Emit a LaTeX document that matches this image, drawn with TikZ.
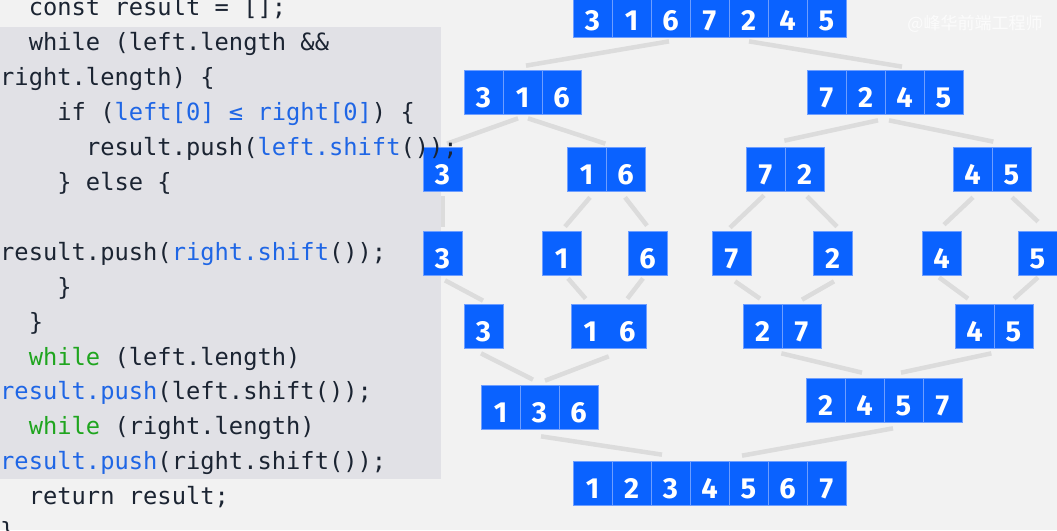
\documentclass[tikz,border=0pt]{standalone}
\usepackage{fontspec}
\usetikzlibrary{backgrounds}
\newfontfamily\codefont{DejaVu Sans Mono}
\newfontfamily\numfont{Fira Sans}
\newfontfamily\cjkfont{Noto Sans CJK SC}
\definecolor{bg}{HTML}{F2F2F2}
\definecolor{panel}{HTML}{E1E1E6}
\definecolor{linkgray}{HTML}{DCDCDC}
\definecolor{cellblue}{HTML}{0A62FF}
\definecolor{celledge}{HTML}{6E9EFF}
\definecolor{codeink}{HTML}{1B2432}
\definecolor{codeblue}{HTML}{1F66E5}
\definecolor{codegreen}{HTML}{1FA51F}

%% one row of cells: name, left x, centre y, digits
\newcommand{\cellrow}[4]{%
  \foreach \d [count=\i] in {#4}
    \node[cell] (#1-\i) at ({#2+\cw*(\i-0.5)},#3) {\d};
}

\begin{document}
\begin{tikzpicture}[x=1pt, y=-1pt,
    cell/.style={rectangle, fill=cellblue, draw=celledge, line width=0.7pt,
      minimum width=39pt, minimum height=44pt, inner sep=0pt, text=white,
      font=\numfont\bfseries\fontsize{29}{30}\selectfont, text height=30pt, text depth=0pt},
    link/.style={draw=linkgray, line width=4.5pt},
    code/.style={anchor=base west, inner sep=0pt, text=codeink,
      font=\codefont\fontsize{23.75}{28}\selectfont}
]
\pgfmathsetmacro{\cw}{39}
\pgfmathsetmacro{\ch}{14.3}
\pgfmathsetmacro{\lh}{34.9}
\useasboundingbox (0,0) rectangle (1057,530);

%% split rows
\cellrow{lv1}{573}{15}{3,1,6,7,2,4,5}
\cellrow{lv2a}{464}{92.7}{3,1,6}
\cellrow{lv2b}{807}{92.7}{7,2,4,5}
\cellrow{lv3a}{423}{169}{3}
\cellrow{lv3b}{567}{169}{1,6}
\cellrow{lv3c}{746}{169}{7,2}
\cellrow{lv3d}{953}{169}{4,5}
\cellrow{lv4a}{423}{253}{3}
\cellrow{lv4b}{542}{253}{1}
\cellrow{lv4c}{628}{253}{6}
\cellrow{lv4d}{712}{253}{7}
\cellrow{lv4e}{813}{253}{2}
\cellrow{lv4f}{922}{253}{4}
\cellrow{lv4g}{1018}{253}{5}

%% merge rows
\cellrow{lv5a}{464}{326}{3}
\node[cell, minimum width=75.5pt] (lv5b) at (608.75,326) {\makebox[37pt]{1}\makebox[37pt]{6}};
\cellrow{lv5c}{743}{326}{2,7}
\cellrow{lv5d}{955}{326}{4,5}
\cellrow{lv6a}{481}{407}{1,3,6}
\cellrow{lv6b}{806}{400}{2,4,5,7}
\cellrow{lv7}{573}{483.5}{1,2,3,4,5,6,7}

\begin{pgfonlayer}{background}
\fill[bg] (0,0) rectangle (1057,530);
%% splitting
\draw[link] ([shift={(-1.5pt,-4pt)}]lv1-3.south) -- ([shift={(3.5pt,4.7pt)}]lv2a-2.north);
\draw[link] ([shift={(0.5pt,-4pt)}]lv1-5.south) -- ([shift={(-2.5pt,3.7pt)}]lv2b-3.north);
\draw[link] ([shift={(-4.5pt,-3.3pt)}]lv2a-2.south) -- ([shift={(4.5pt,3pt)}]lv3a-1.north);
\draw[link] ([shift={(5.5pt,-3.3pt)}]lv2a-2.south) -- ([shift={(-1pt,3pt)}]lv3b-1.north east);
\draw[link] ([shift={(12.5pt,-5.3pt)}]lv2b-2.south) -- ([shift={(-1pt,6pt)}]lv3c-1.north east);
\draw[link] ([shift={(-15.5pt,-5.3pt)}]lv2b-3.south) -- ([shift={(1pt,5pt)}]lv3d-1.north east);
\draw[link] ([yshift=-5pt]lv3a-1.south) -- ([yshift=4pt]lv4a-1.north);
\draw[link] ([shift={(3.5pt,-6pt)}]lv3b-1.south) -- ([shift={(3.5pt,4pt)}]lv4b-1.north);
\draw[link] ([shift={(-0.5pt,-6pt)}]lv3b-2.south) -- ([shift={(-0.5pt,5pt)}]lv4c-1.north);
\draw[link] ([shift={(-1.5pt,-4pt)}]lv3c-1.south) -- ([shift={(-1.5pt,3pt)}]lv4d-1.north);
\draw[link] ([shift={(2.5pt,-5pt)}]lv3c-2.south) -- ([shift={(4.5pt,4pt)}]lv4e-1.north);
\draw[link] ([shift={(0.5pt,-6pt)}]lv3d-1.south) -- ([shift={(2.5pt,6pt)}]lv4f-1.north);
\draw[link] ([shift={(0.5pt,-6pt)}]lv3d-2.south) -- ([shift={(0.5pt,9pt)}]lv4g-1.north);
%% merging
\draw[link] ([shift={(2.5pt,-5pt)}]lv4a-1.south) -- ([shift={(-0.5pt,3pt)}]lv5a-1.north);
\draw[link] ([shift={(6.5pt,-3pt)}]lv4b-1.south) -- ([shift={(15pt,5pt)}]lv5b.north west);
\draw[link] ([shift={(-4.5pt,-3pt)}]lv4c-1.south) -- ([shift={(-19.5pt,5pt)}]lv5b.north east);
\draw[link] ([shift={(3.5pt,-6pt)}]lv4d-1.south) -- ([shift={(-2.5pt,5pt)}]lv5c-1.north);
\draw[link] ([shift={(1.5pt,-6pt)}]lv4e-1.south) -- ([shift={(0.5pt,4pt)}]lv5c-2.north);
\draw[link] ([shift={(-2.5pt,-2pt)}]lv4f-1.south) -- ([shift={(-6.5pt,5pt)}]lv5d-1.north);
\draw[link] ([shift={(0.5pt,-2pt)}]lv4g-1.south) -- ([shift={(0.5pt,5pt)}]lv5d-2.north);
\draw[link] ([shift={(-2.5pt,-5pt)}]lv5a-1.south) -- ([shift={(-6.5pt,5pt)}]lv6a-2.north);
\draw[link] ([yshift=-8pt]lv5b.south) -- ([shift={(5.5pt,4pt)}]lv6a-2.north);
\draw[link] ([shift={(-1pt,-5pt)}]lv5c-1.south east) -- ([shift={(-2.5pt,5pt)}]lv6b-2.north);
\draw[link] ([shift={(-3pt,-5pt)}]lv5d-1.south east) -- ([shift={(-2.5pt,5pt)}]lv6b-3.north);
\draw[link] ([shift={(1.5pt,-7pt)}]lv6a-2.south) -- ([shift={(-8.5pt,6.5pt)}]lv7-3.north);
\draw[link] ([shift={(-10.5pt,-6pt)}]lv6b-3.south) -- ([shift={(-6.5pt,5.5pt)}]lv7-5.north);
%% code panel
\fill[panel] (0,26.7) rectangle (441,478.5);
\end{pgfonlayer}

%% code
\node[code] (ln0) at ({2*\ch},{16+0*\lh}) {const result = [];};
\node[code] (ln1) at ({2*\ch},{16+1*\lh}) {while (left.length \&\&};
\node[code] (ln2) at (0,{16+2*\lh}) {right.length) \{};
\node[code] (ln3) at ({4*\ch},{16+3*\lh}) {if (\textcolor{codeblue}{left[0] ≤ right[0]}) \{};
\node[code] (ln4) at ({6*\ch},{16+4*\lh}) {result.push(\textcolor{codeblue}{left.shift}());};
\node[code] (ln5) at ({4*\ch},{16+5*\lh}) {\} else \{};
\node[code] (ln7) at (0,{16+7*\lh}) {result.push(\textcolor{codeblue}{right.shift}());};
\node[code] (ln8) at ({4*\ch},{16+8*\lh}) {\}};
\node[code] (ln9) at ({2*\ch},{16+9*\lh}) {\}};
\node[code] (ln10) at ({2*\ch},{16+10*\lh}) {\textcolor{codegreen}{while} (left.length)};
\node[code] (ln11) at (0,{16+11*\lh}) {\textcolor{codeblue}{result.push}(left.shift());};
\node[code] (ln12) at ({2*\ch},{16+12*\lh}) {\textcolor{codegreen}{while} (right.length)};
\node[code] (ln13) at (0,{16+13*\lh}) {\textcolor{codeblue}{result.push}(right.shift());};
\node[code] (ln14) at ({2*\ch},{16+14*\lh}) {return result;};
\node[code] (ln15) at (0,{16+15*\lh}) {\}};

%% watermark
\node[text=white, opacity=0.75, inner sep=0pt, font=\cjkfont\fontsize{17}{20}\selectfont] (mark) at (975,24) {@峰华前端工程师};
\end{tikzpicture}
\end{document}
